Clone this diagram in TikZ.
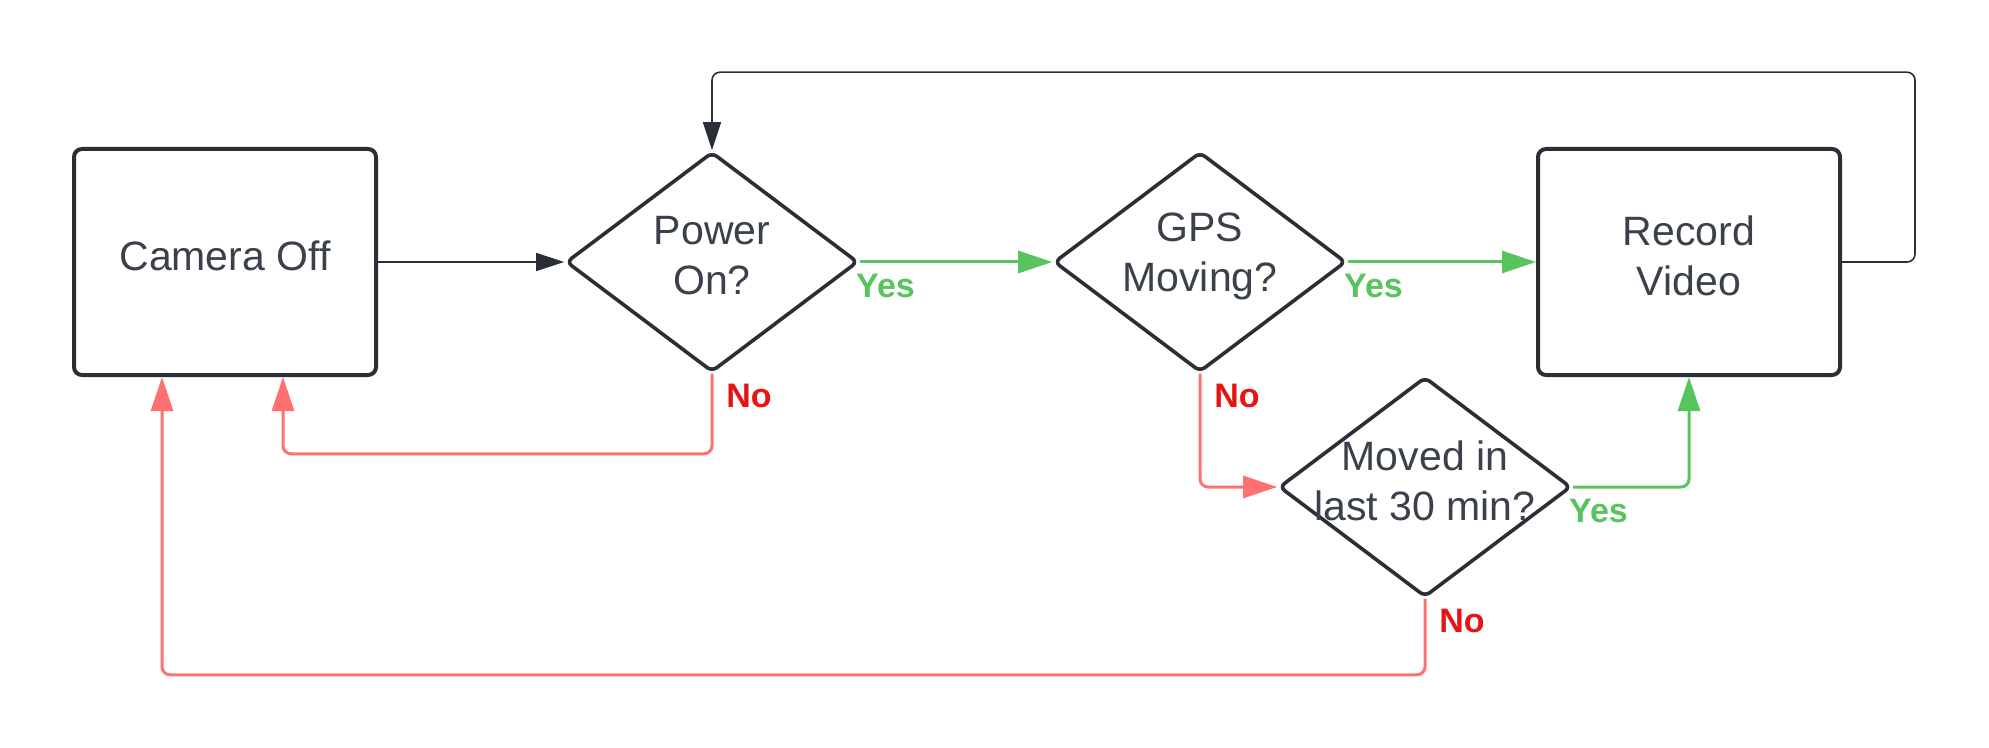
\documentclass[tikz,border=0pt]{standalone}
\usepackage{fontspec}
\setmainfont{Liberation Sans}
\usetikzlibrary{shapes.geometric,arrows.meta,calc}
\definecolor{boxline}{HTML}{2A2E35}
\definecolor{boxtext}{HTML}{3A414A}
\definecolor{yesgreen}{HTML}{57C45E}
\definecolor{nopink}{HTML}{FF7171}
\definecolor{nored}{HTML}{E81414}

\begin{document}
\begin{tikzpicture}[x=0.5pt, y=-0.5pt,
        state/.style={draw=boxline, line width=2pt, rounded corners=4pt,
            minimum width=151pt, minimum height=113pt, text=boxtext, text depth=6pt,
            font=\fontsize{20.5}{25}\selectfont, align=center},
        decision/.style={diamond, draw=boxline, line width=1.8pt, rounded corners=3pt,
            minimum width=146pt, minimum height=110pt, inner sep=0pt},
        dtext/.style={text=boxtext, font=\fontsize{20.5}{25}\selectfont,
            align=center, inner sep=0pt, yshift=3pt},
        plain/.style={draw=boxline, line width=0.8pt, rounded corners=4pt,
            -{Triangle[length=14pt,width=9pt]}},
        yesline/.style={draw=yesgreen, line width=1.5pt, rounded corners=4pt,
            -{Triangle[length=17pt,width=11pt]}},
        noline/.style={draw=nopink, line width=1.5pt, rounded corners=4pt,
            -{Triangle[length=17pt,width=11pt]}},
        yeslbl/.style={text=yesgreen, font=\fontsize{17}{20}\selectfont\bfseries,
            anchor=north west, inner sep=0pt, xshift=-2pt, yshift=-6pt},
        nolbl/.style={text=nored, font=\fontsize{17}{20}\selectfont\bfseries,
            anchor=north west, inner sep=0pt, xshift=7pt, yshift=-5pt}]

    \useasboundingbox (0,0) rectangle (1989,748);

    \node[state] (cam) at (225,262) {Camera Off};
    \node[decision, label={[dtext]center:{Power\\On?}}] (power) at (712,262) {};
    \node[decision, label={[dtext]center:{GPS\\Moving?}}] (gps) at (1200,262) {};
    \node[state] (rec) at (1689,262) {Record\\Video};
    \node[decision, label={[dtext]center:{Moved in\\last 30 min?}}] (moved) at (1425,487) {};

    \draw[plain] (cam.east) -- (power.west);
    \draw[plain] (rec.east) -- ++(73,0) |- ($(power.north)+(0,-78)$) -- (power.north);

    \draw[yesline] (power.east) -- (gps.west);
    \node[yeslbl] (yes1) at (power.east) {Yes};
    \draw[yesline] (gps.east) -- (rec.west);
    \node[yeslbl] (yes2) at (gps.east) {Yes};
    \draw[yesline] (moved.east) -| (rec.south);
    \node[yeslbl] (yes3) at (moved.east) {Yes};

    \draw[noline] (power.south) -- ++(0,80) -| ($(cam.south)+(58,0)$);
    \node[nolbl] (no1) at (power.south) {No};
    \draw[noline] (gps.south) |- (moved.west);
    \node[nolbl] (no2) at (gps.south) {No};
    \draw[noline] (moved.south) -- ++(0,76) -| ($(cam.south)+(-63,0)$);
    \node[nolbl] (no3) at (moved.south) {No};

\end{tikzpicture}
\end{document}
